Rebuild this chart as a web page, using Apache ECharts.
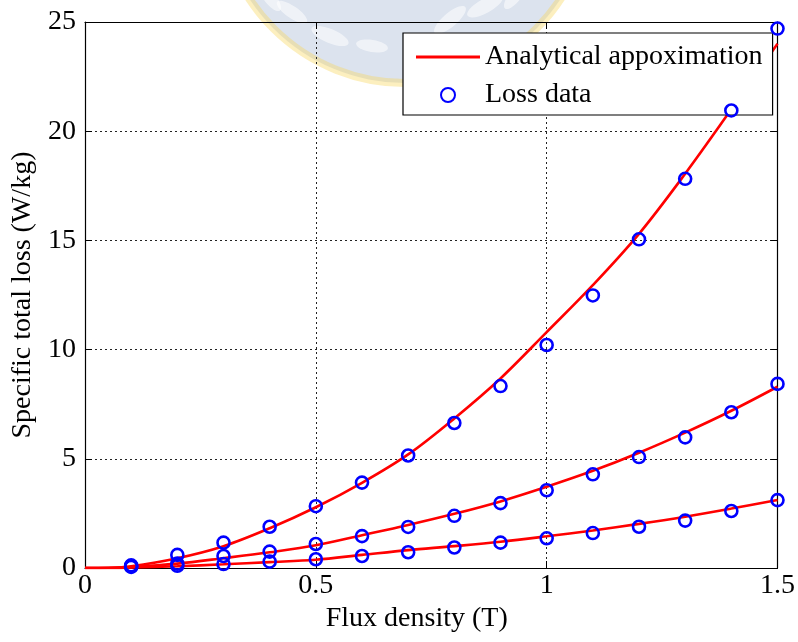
<!DOCTYPE html>
<html>
<head>
<meta charset="utf-8">
<title>Specific total loss vs flux density</title>
<script src="https://cdn.jsdelivr.net/npm/echarts@6/dist/echarts.min.js"></script>
<style>
  html, body { margin: 0; padding: 0; background: #fff; }
  #chart { width: 798px; height: 642px; }
</style>
</head>
<body>
<div id="chart"></div>
<script>
// Flux density samples (T) for the measured losses
const fluxPoints = [0.1, 0.2, 0.3, 0.4, 0.5, 0.6, 0.7, 0.8, 0.9, 1.0, 1.1, 1.2, 1.3, 1.4, 1.5];

// Measured specific total loss (W/kg), three excitation cases
const lossHigh = [0.12, 0.6, 1.16, 1.89, 2.83, 3.91, 5.15, 6.64, 8.33, 10.21, 12.48, 15.05, 17.82, 20.95, 24.7];
const lossMid  = [0.08, 0.2, 0.55, 0.75, 1.10, 1.46, 1.88, 2.39, 2.97, 3.56, 4.29, 5.08, 5.98, 7.13, 8.43];
const lossLow  = [0.05, 0.1, 0.18, 0.29, 0.40, 0.55, 0.72, 0.94, 1.16, 1.36, 1.60, 1.89, 2.17, 2.61, 3.11];

// Analytical approximation curves, sampled along the flux axis
const fluxCurve = [0, 0.05, 0.1, 0.2, 0.3, 0.4, 0.5, 0.6, 0.7, 0.8, 0.9, 1.0, 1.1, 1.2, 1.3, 1.4, 1.5];
const curveHigh = [0, 0.01, 0.08, 0.45, 1.0, 1.82, 2.78, 3.9, 5.2, 6.85, 8.68, 10.8, 12.95, 15.3, 18.05, 21.0, 24.0];
const curveMid  = [0, 0.0, 0.04, 0.2, 0.45, 0.72, 1.04, 1.5, 1.97, 2.48, 3.05, 3.72, 4.45, 5.28, 6.2, 7.2, 8.3];
const curveLow  = [0, 0.0, 0.02, 0.08, 0.17, 0.27, 0.38, 0.6, 0.82, 1.0, 1.2, 1.45, 1.72, 2.02, 2.35, 2.72, 3.11];

// Axis ticks
const xTicks = [0, 0.5, 1, 1.5];
const yTicks = [0, 5, 10, 15, 20, 25];

const seriesNames = ['Analytical appoximation', 'Loss data'];
const xTitle = 'Flux density (T)';
const yTitle = 'Specific total loss (W/kg)';

const FONT = '"Liberation Serif", "Times New Roman", serif';
const FS = 28;
const pair = (xs, ys) => xs.map((x, i) => [x, ys[i]]);

const chart = echarts.init(document.getElementById('chart'), null, { renderer: 'canvas' });

const dotted = { show: true, lineStyle: { color: '#222', width: 1, type: [2, 3] } };
const frameLine = { show: true, onZero: false, lineStyle: { color: '#000', width: 1.2 } };
const innerTick = { show: true, inside: true, length: 7, lineStyle: { color: '#000', width: 1 } };

const xBase = {
  type: 'value', min: xTicks[0], max: xTicks[xTicks.length - 1], interval: xTicks[1] - xTicks[0]
};
const yBase = {
  type: 'value', min: yTicks[0], max: yTicks[yTicks.length - 1], interval: yTicks[1] - yTicks[0]
};

const lineSeries = (data) => ({
  name: seriesNames[0], type: 'line', data, smooth: 0.35, showSymbol: false, symbol: 'none',
  lineStyle: { color: '#ff0000', width: 2.6 }, itemStyle: { color: '#ff0000' }, z: 3, silent: true
});
const dotSeries = (data) => ({
  name: seriesNames[1], type: 'scatter', data, symbol: 'circle', symbolSize: 12,
  itemStyle: { color: 'rgba(0,0,0,0)', borderColor: '#0000ff', borderWidth: 2.6, opacity: 1 }, z: 4, silent: true
});

// Faint circular emblem laid over the top of the figure
const leaves = [
  [292, 12, 18, 6, -0.6], [330, 36, 20, 7, -0.4], [372, 46, 16, 6, -0.15],
  [450, 20, 20, 7, 0.7], [485, 6, 20, 7, 0.5], [420, 46, 16, 6, 0.25],
  [270, -2, 16, 6, -0.9], [515, -4, 16, 6, 0.9]
].map(([cx, cy, rx, ry, rot]) => ({
  type: 'ellipse', x: cx, y: cy, rotation: rot,
  shape: { cx: 0, cy: 0, rx, ry },
  style: { fill: 'rgba(255,255,255,0.55)' }, silent: true
}));

chart.setOption({
  animation: false,
  backgroundColor: '#fff',
  grid: { left: 85, right: 19, top: 22, bottom: 74, containLabel: false },
  legend: {
    data: [
      { name: seriesNames[0], icon: 'path://M0,0 L64,0 L64,3 L0,3 Z' },
      { name: seriesNames[1] }
    ],
    orient: 'vertical',
    left: 403, top: 33,
    padding: [10, 10, 6, 13],
    itemGap: 10,
    itemWidth: 64, itemHeight: 14,
    backgroundColor: '#fff',
    borderColor: '#000', borderWidth: 1.2,
    textStyle: { fontFamily: FONT, fontSize: FS, color: '#000' },
    selectedMode: false
  },
  xAxis: [
    Object.assign({}, xBase, {
      position: 'bottom',
      name: xTitle, nameLocation: 'middle', nameGap: 34,
      nameTextStyle: { fontFamily: FONT, fontSize: FS, color: '#000', padding: [0, 29, 0, 0] },
      axisLine: frameLine, axisTick: innerTick,
      axisLabel: { fontFamily: FONT, fontSize: FS, color: '#000', margin: 4 },
      splitLine: dotted
    }),
    Object.assign({}, xBase, {
      position: 'top', axisLine: frameLine, axisTick: innerTick,
      axisLabel: { show: false }, splitLine: { show: false }
    })
  ],
  yAxis: [
    Object.assign({}, yBase, {
      position: 'left',
      name: yTitle, nameLocation: 'middle', nameGap: 47,
      nameTextStyle: { fontFamily: FONT, fontSize: FS, color: '#000' },
      axisLine: frameLine, axisTick: innerTick,
      axisLabel: { fontFamily: FONT, fontSize: FS, color: '#000', margin: 9 },
      splitLine: dotted
    }),
    Object.assign({}, yBase, {
      position: 'right', axisLine: frameLine, axisTick: innerTick,
      axisLabel: { show: false }, splitLine: { show: false }
    })
  ],
  series: [
    lineSeries(pair(fluxCurve, curveHigh)),
    lineSeries(pair(fluxCurve, curveMid)),
    lineSeries(pair(fluxCurve, curveLow)),
    dotSeries(pair(fluxPoints, lossHigh)),
    dotSeries(pair(fluxPoints, lossMid)),
    dotSeries(pair(fluxPoints, lossLow))
  ],
  graphic: {
    elements: [{
      type: 'group', z: 100, silent: true,
      children: [
        {
          type: 'circle', shape: { cx: 405, cy: -103, r: 186 },
          style: { fill: 'rgba(168,185,212,0.4)', stroke: 'rgba(248,216,96,0.4)', lineWidth: 8 },
          silent: true
        }
      ].concat(leaves)
    }]
  }
});
</script>
</body>
</html>
